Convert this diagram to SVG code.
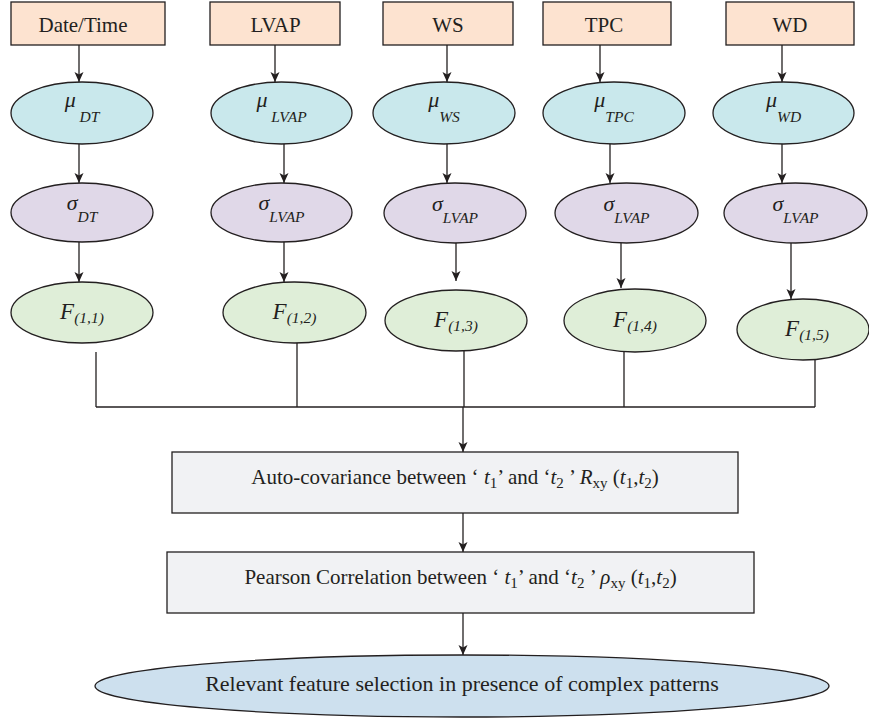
<svg xmlns="http://www.w3.org/2000/svg" width="869" height="718" viewBox="0 0 869 718">
<style>
.box{fill:#fde3d0;stroke:#231f20;stroke-width:1.3}
.mu{fill:#c9e8ec;stroke:#231f20;stroke-width:1.3}
.sg{fill:#e0d8e8;stroke:#231f20;stroke-width:1.3}
.f{fill:#dfeed8;stroke:#231f20;stroke-width:1.3}
.gb{fill:#f1f2f4;stroke:#231f20;stroke-width:1.3}
.be{fill:#cde0ee;stroke:#231f20;stroke-width:1.3}
.t{font-family:"Liberation Serif","Times New Roman",serif;fill:#231f20;text-anchor:middle}
.lb{font-size:21px}
.m{font-size:22px;font-style:italic}
.s{font-size:15.5px;font-style:italic}
.bt{font-size:21px}
.rt{font-size:22px}
.i{font-style:italic}
.sb{font-size:15px}
.c{fill:none;stroke:#231f20;stroke-width:1.3}
.a{fill:none;stroke:#231f20;stroke-width:1.3;marker-end:url(#ah)}
</style>
<defs>
<marker id="ah" markerUnits="userSpaceOnUse" markerWidth="11" markerHeight="11" refX="10" refY="5" orient="auto">
<path d="M0,0.5 L10,5 L0,9.5 L2.5,5 z" fill="#231f20"/>
</marker>
</defs>

<g id="connectors">
<line class="a" x1="79" y1="45" x2="79" y2="82"/>
<line class="a" x1="79" y1="144" x2="79" y2="183"/>
<line class="a" x1="79" y1="242" x2="79" y2="282"/>
<line class="a" x1="275" y1="45" x2="275" y2="82"/>
<line class="a" x1="284" y1="144" x2="284" y2="183"/>
<line class="a" x1="284" y1="242" x2="284" y2="282"/>
<line class="a" x1="447" y1="45" x2="447" y2="82"/>
<line class="a" x1="447" y1="144" x2="447" y2="183"/>
<line class="a" x1="456" y1="243" x2="456" y2="281"/>
<line class="a" x1="600" y1="45" x2="600" y2="82"/>
<line class="a" x1="610" y1="144" x2="610" y2="183"/>
<line class="a" x1="621" y1="243" x2="621" y2="288"/>
<line class="a" x1="782" y1="45" x2="782" y2="82"/>
<line class="a" x1="782" y1="144" x2="782" y2="183"/>
<line class="a" x1="791" y1="243" x2="791" y2="299"/>
<line class="c" x1="96" y1="352" x2="96" y2="407"/>
<line class="c" x1="297" y1="343" x2="297" y2="407"/>
<line class="c" x1="464" y1="351" x2="464" y2="407"/>
<line class="c" x1="624" y1="352" x2="624" y2="407"/>
<line class="c" x1="815" y1="360" x2="815" y2="407"/>
<line class="c" x1="96" y1="407" x2="815" y2="407"/>
<line class="a" x1="463" y1="407" x2="463" y2="452"/>
<line class="a" x1="463" y1="513" x2="463" y2="552"/>
<line class="a" x1="463" y1="613" x2="463" y2="655"/>
</g>

<g id="n-datetime"><rect class="box" x="11" y="2" width="154" height="43"/><text class="t lb" x="83" y="32">Date/Time</text></g>
<g id="n-lvap"><rect class="box" x="210" y="2" width="130" height="43"/><text class="t lb" x="275.5" y="32">LVAP</text></g>
<g id="n-ws"><rect class="box" x="383" y="2" width="130" height="43"/><text class="t lb" x="448" y="32">WS</text></g>
<g id="n-tpc"><rect class="box" x="543" y="2" width="128" height="43"/><text class="t lb" x="604" y="32">TPC</text></g>
<g id="n-wd"><rect class="box" x="726" y="2" width="128" height="43"/><text class="t lb" x="790" y="32">WD</text></g>

<g id="n-mu-dt"><ellipse class="mu" cx="82" cy="113" rx="71" ry="31"/><text class="t" x="82" y="107"><tspan class="m">μ</tspan><tspan class="s" dy="15"> DT</tspan></text></g>
<g id="n-mu-lvap"><ellipse class="mu" cx="281.5" cy="113" rx="70.5" ry="31"/><text class="t" x="281.5" y="107"><tspan class="m">μ</tspan><tspan class="s" dy="15"> LVAP</tspan></text></g>
<g id="n-mu-ws"><ellipse class="mu" cx="444" cy="113" rx="71" ry="31"/><text class="t" x="444" y="107"><tspan class="m">μ</tspan><tspan class="s" dy="15">WS</tspan></text></g>
<g id="n-mu-tpc"><ellipse class="mu" cx="614" cy="113" rx="71" ry="31"/><text class="t" x="614" y="107"><tspan class="m">μ</tspan><tspan class="s" dy="15">TPC</tspan></text></g>
<g id="n-mu-wd"><ellipse class="mu" cx="783.5" cy="113" rx="70.5" ry="31"/><text class="t" x="783.5" y="107"><tspan class="m">μ</tspan><tspan class="s" dy="15">WD</tspan></text></g>

<g id="n-sg-dt"><ellipse class="sg" cx="82" cy="212.5" rx="71" ry="29.5"/><text class="t" x="82" y="210"><tspan class="m">σ</tspan><tspan class="s" dy="12">DT</tspan></text></g>
<g id="n-sg-lvap"><ellipse class="sg" cx="281.5" cy="212.5" rx="70.5" ry="29.5"/><text class="t" x="281.5" y="210"><tspan class="m">σ</tspan><tspan class="s" dy="12">LVAP</tspan></text></g>
<g id="n-sg-ws"><ellipse class="sg" cx="455" cy="213" rx="71" ry="30"/><text class="t" x="455" y="210.5"><tspan class="m">σ</tspan><tspan class="s" dy="12">LVAP</tspan></text></g>
<g id="n-sg-tpc"><ellipse class="sg" cx="626.5" cy="213" rx="71.5" ry="30"/><text class="t" x="626.5" y="210.5"><tspan class="m">σ</tspan><tspan class="s" dy="12">LVAP</tspan></text></g>
<g id="n-sg-wd"><ellipse class="sg" cx="795.5" cy="213" rx="71.5" ry="30"/><text class="t" x="795.5" y="210.5"><tspan class="m">σ</tspan><tspan class="s" dy="12">LVAP</tspan></text></g>

<g id="n-f11"><ellipse class="f" cx="82" cy="312.5" rx="71" ry="30.5"/><text class="t" x="82" y="319"><tspan class="m" style="font-size:23px">F</tspan><tspan class="s" dy="4">(1,1)</tspan></text></g>
<g id="n-f12"><ellipse class="f" cx="294.5" cy="312.5" rx="71.5" ry="30.5"/><text class="t" x="294.5" y="319"><tspan class="m" style="font-size:23px">F</tspan><tspan class="s" dy="4">(1,2)</tspan></text></g>
<g id="n-f13"><ellipse class="f" cx="456" cy="320.5" rx="71" ry="30.5"/><text class="t" x="456" y="327"><tspan class="m" style="font-size:23px">F</tspan><tspan class="s" dy="4">(1,3)</tspan></text></g>
<g id="n-f14"><ellipse class="f" cx="635" cy="320.5" rx="71" ry="31.5"/><text class="t" x="635" y="327"><tspan class="m" style="font-size:23px">F</tspan><tspan class="s" dy="4">(1,4)</tspan></text></g>
<g id="n-f15"><ellipse class="f" cx="803" cy="329.5" rx="66" ry="30.5"/><text class="t" x="807" y="336"><tspan class="m" style="font-size:23px">F</tspan><tspan class="s" dy="4">(1,5)</tspan></text></g>

<g id="n-autocov"><rect class="gb" x="172" y="452" width="566" height="61"/>
<text class="t bt" x="455" y="484">Auto-covariance between ‘ <tspan class="i">t</tspan><tspan class="sb" dy="4">1</tspan><tspan dy="-4">’ and ‘</tspan><tspan class="i">t</tspan><tspan class="sb" dy="4">2</tspan><tspan dy="-4"> ’ </tspan><tspan class="i">R</tspan><tspan class="sb" dy="4">xy</tspan><tspan dy="-4"> (</tspan><tspan class="i">t</tspan><tspan class="sb" dy="4">1</tspan><tspan dy="-4">,</tspan><tspan class="i">t</tspan><tspan class="sb" dy="4">2</tspan><tspan dy="-4">)</tspan></text></g>

<g id="n-pearson"><rect class="gb" x="167" y="552" width="587" height="61"/>
<text class="t bt" x="460.5" y="584">Pearson Correlation between ‘ <tspan class="i">t</tspan><tspan class="sb" dy="4">1</tspan><tspan dy="-4">’ and ‘</tspan><tspan class="i">t</tspan><tspan class="sb" dy="4">2</tspan><tspan dy="-4"> ’ </tspan><tspan class="i">ρ</tspan><tspan class="sb" dy="4">xy</tspan><tspan dy="-4"> (</tspan><tspan class="i">t</tspan><tspan class="sb" dy="4">1</tspan><tspan dy="-4">,</tspan><tspan class="i">t</tspan><tspan class="sb" dy="4">2</tspan><tspan dy="-4">)</tspan></text></g>

<g id="n-relevant"><ellipse class="be" cx="462" cy="686" rx="367" ry="31"/><text class="t rt" x="462" y="691">Relevant feature selection in presence of complex patterns</text></g>
</svg>
